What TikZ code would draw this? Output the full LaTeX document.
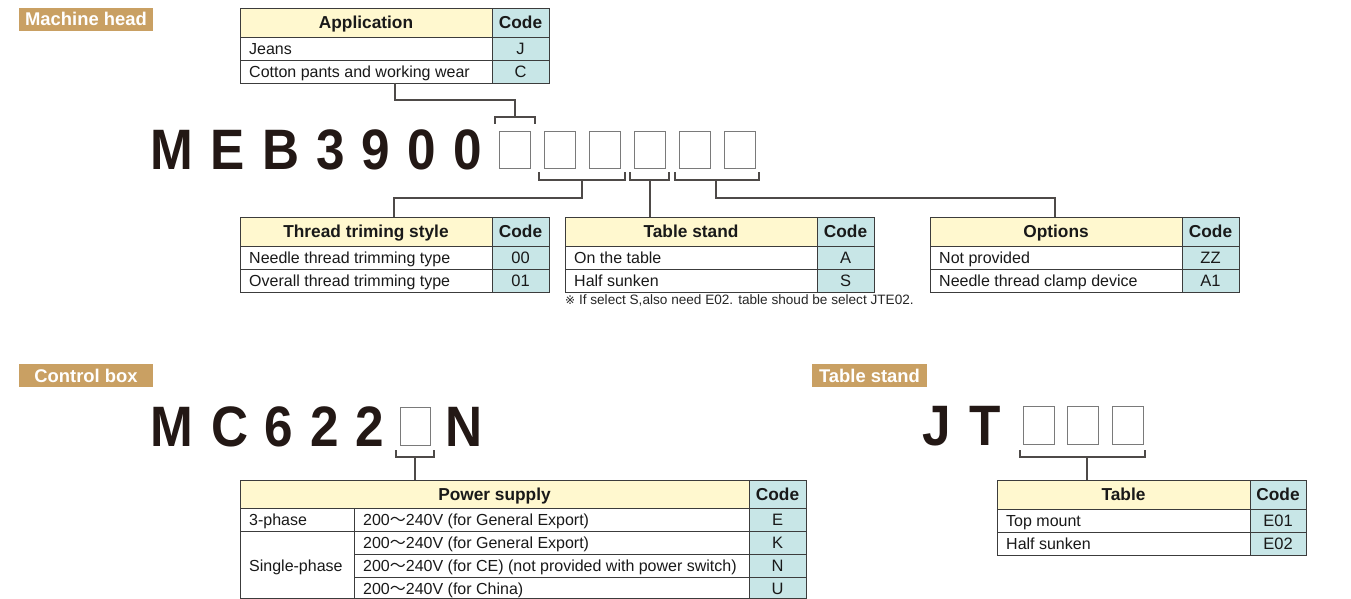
\documentclass[tikz,border=0pt]{standalone}
\usepackage{fontspec}
\setmainfont{Liberation Sans}
\newfontfamily\symfont{DejaVu Sans}
\newfontfamily\cjkfont{Noto Sans CJK JP}
\newfontfamily\bigfont[FakeStretch=0.9]{Liberation Sans Bold}
\definecolor{tagc}{HTML}{C9A063}
\definecolor{hdrc}{HTML}{FFF8CF}
\definecolor{codec}{HTML}{C8E6E7}
\definecolor{linec}{HTML}{3C3C3C}
\definecolor{inkc}{HTML}{231815}
\definecolor{slotc}{HTML}{7A7A7A}
\definecolor{brkc}{HTML}{4E4A48}
\newcommand\wv{{\cjkfont ～}}
\newcommand\codetab[7]{%
  \path[fill=hdrc] (#2,#5) rectangle (#3,#5+29);
  \path[fill=codec] (#3,#5) rectangle (#4,#5+29);
  \node[hd] (#1h) at ({(#2+#3)/2},#5+14.5) {#6};
  \node[hd] (#1c) at ({(#3+#4)/2},#5+14.5) {Code};
  \draw[tabline] (#2,#5) rectangle (#3,#5+29);
  \draw[tabline] (#3,#5) rectangle (#4,#5+29);
  \foreach \t/\c [count=\i] in {#7} {
    \pgfmathsetmacro\ya{#5+29+23*(\i-1)}
    \path[fill=codec] (#3,\ya) rectangle (#4,\ya+23);
    \draw[tabline] (#2,\ya) rectangle (#3,\ya+23);
    \draw[tabline] (#3,\ya) rectangle (#4,\ya+23);
    \node[txt] (#1t\i) at (#2+9,\ya+11.5) {\t};
    \node[cd] (#1k\i) at ({(#3+#4)/2},\ya+11.5) {\c};
  }%
}
\begin{document}
\begin{tikzpicture}[x=1pt,y=-1pt,
  tag/.style={fill=tagc, text=white, font=\bfseries\fontsize{18.4}{18.4}\selectfont, inner sep=0, text height=13pt, text depth=0pt},
  big/.style={font=\bigfont\fontsize{57}{57}\selectfont, text=inkc, anchor=base, inner sep=0},
  hd/.style={font=\bfseries\fontsize{17.3}{17.3}\selectfont, inner sep=0, text height=12.4pt, text depth=0pt, text=black!90},
  txt/.style={font=\fontsize{16}{16}\selectfont, inner sep=0, anchor=west, text height=11.5pt, text depth=0pt, text=black!90},
  cd/.style={font=\fontsize{16.5}{16.5}\selectfont, inner sep=0, text height=11.8pt, text depth=0pt, text=black!90},
  tabline/.style={draw=linec, line width=0.9pt},
  slot/.style={draw=slotc, line width=1.3pt, minimum width=31pt, minimum height=37pt, inner sep=0, anchor=north west},
  brk/.style={draw=brkc, line width=1.1pt},
  conn/.style={draw=brkc, line width=1.1pt},
  note/.style={font=\fontsize{13.6}{13.6}\selectfont, inner sep=0, anchor=west, text=black!85}
]
\useasboundingbox (0,0) rectangle (1351,599);
\fill[white] (0,0) rectangle (1351,599);

% ---------- Machine head ----------
\path[fill=tagc] (19,8) rectangle (153,31);
\node[tag] (tagmh) at (86,19.5) {Machine head};

\codetab{app}{240}{492}{549}{8}{Application}{Jeans/J,Cotton pants and working wear/C}

\foreach \ch/\cx [count=\i] in {M/172,E/227.5,B/281.5,3/331,9/376,0/421.5,0/467.5}
  \node[big] (meb\i) at (\cx,169) {\ch};
\foreach \sx [count=\i] in {499,544,589,634,679,724}
  \node[slot] (ms\i) at (\sx,131) {};

% top bracket
\coordinate (appb) at (395,83);
\coordinate (tb) at (515,117);
\draw[brk] (495,124) -- (495,117) -- (535,117) -- (535,124);
\draw[conn] (appb) -- (395,100) -| (tb);

% bottom brackets
\draw[brk] (539,172) -- (539,180) -- (625,180) -- (625,172);
\draw[brk] (630,172) -- (630,180) -- (669,180) -- (669,172);
\draw[brk] (675,172) -- (675,180) -- (759,180) -- (759,172);
\coordinate (ba) at (582,180);
\coordinate (bb) at (650,180);
\coordinate (bc) at (716,180);
\coordinate (tt) at (394,217);
\coordinate (ts) at (650,217);
\coordinate (to) at (1055,217);
\draw[conn] (ba) -- (582,198) -| (tt);
\draw[conn] (bb) -- (ts);
\draw[conn] (bc) -- (716,198) -| (to);

\codetab{thr}{240}{492}{549}{217}{Thread triming style}{Needle thread trimming type/00,Overall thread trimming type/01}
\codetab{std}{565}{817}{874}{217}{Table stand}{On the table/A,Half sunken/S}
\codetab{opt}{930}{1182}{1239}{217}{Options}{Not provided/ZZ,Needle thread clamp device/A1}
\node[note] (nt) at (565,300.5) {{\symfont\fontsize{12}{12}\selectfont ※} If select S,also need E02. table shoud be select JTE02.};

% ---------- Control box ----------
\path[fill=tagc] (19,364) rectangle (153,387);
\node[tag] (tagcb) at (86,375.5) {Control box};
\foreach \ch/\cx [count=\i] in {M/172,C/230,6/279,2/325,2/370}
  \node[big] (mc\i) at (\cx,446) {\ch};
\node[big] (mcN) at (464,446) {N};
\node[slot, minimum width=30pt, minimum height=38pt] (cs1) at (400,407) {};
\draw[brk] (396,450) -- (396,457) -- (434,457) -- (434,450);
\coordinate (cbm) at (415,457);
\coordinate (pst) at (415,480);
\draw[conn] (cbm) -- (pst);

% power supply table
\path[fill=hdrc] (240,480) rectangle (749,508);
\path[fill=codec] (749,480) rectangle (806,599);
\draw[tabline] (240,480) rectangle (806,508);
\draw[tabline] (749,480) -- (749,599);
\draw[tabline] (240,508) -- (240,599);
\draw[tabline] (806,508) -- (806,599);
\draw[tabline] (354,508) -- (354,599);
\draw[tabline] (240,531) -- (806,531);
\draw[tabline] (354,554) -- (806,554);
\draw[tabline] (354,577) -- (806,577);
\draw[tabline] (240,598.6) -- (806,598.6);
\node[hd] (psh) at (494.5,494) {Power supply};
\node[hd] (psc) at (777.5,494) {Code};
\node[txt] (ps1) at (249,519.5) {3-phase};
\node[txt] (ps2) at (249,565.5) {Single-phase};
\node[txt] (pv1) at (363,519.5) {200\wv 240V (for General Export)};
\node[txt] (pv2) at (363,542.5) {200\wv 240V (for General Export)};
\node[txt] (pv3) at (363,565.5) {200\wv 240V (for CE) (not provided with power switch)};
\node[txt] (pv4) at (363,588.5) {200\wv 240V (for China)};
\node[cd] (pk1) at (777.5,519.5) {E};
\node[cd] (pk2) at (777.5,542.5) {K};
\node[cd] (pk3) at (777.5,565.5) {N};
\node[cd] (pk4) at (777.5,588.5) {U};

% ---------- Table stand ----------
\path[fill=tagc] (812,364) rectangle (927,387);
\node[tag] (tagts) at (869.5,375.5) {Table stand};
\node[big] (jt1) at (937,445) {J};
\node[big] (jt2) at (985,445) {T};
\foreach \sx [count=\i] in {1023,1067,1112}
  \node[slot, minimum height=38pt] (js\i) at (\sx,406) {};
\draw[brk] (1020,450) -- (1020,457) -- (1145,457) -- (1145,450);
\coordinate (jbm) at (1087,457);
\coordinate (jtt) at (1087,480);
\draw[conn] (jbm) -- (jtt);
\codetab{tbl}{997}{1250}{1306}{480}{Table}{Top mount/E01,Half sunken/E02}
\end{tikzpicture}
\end{document}
